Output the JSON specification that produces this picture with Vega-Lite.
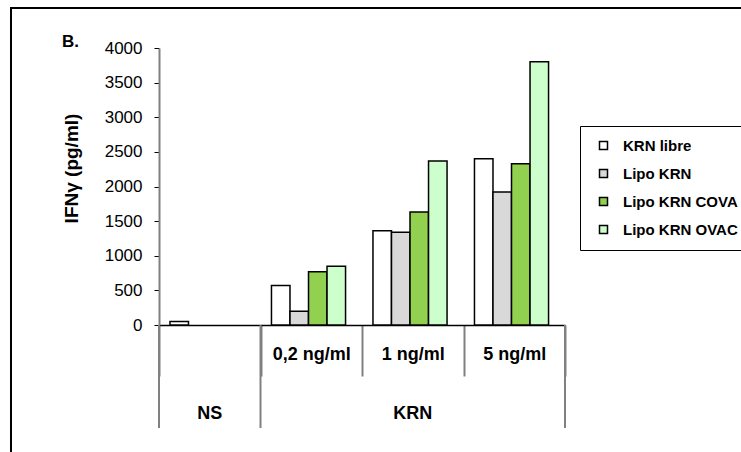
{
  "$schema": "https://vega.github.io/schema/vega-lite/v6.json",
  "width": 740,
  "height": 450,
  "autosize": {"type": "none"},
  "padding": {"left": 11, "top": 8, "right": 0, "bottom": 0},
  "background": "white",
  "config": {"view": {"stroke": "#000", "strokeWidth": 2}, "font": "Liberation Sans"},
  "title": {"text": "B.", "anchor": "start", "frame": "group", "dx": 51, "offset": -56, "baseline": "alphabetic", "fontSize": 17, "fontWeight": "bold", "color": "#000"},
  "datasets": {
    "bars": [
      {"cat": "NS", "series": "KRN libre", "value": 50},
      {"cat": "0,2 ng/ml", "series": "KRN libre", "value": 570},
      {"cat": "0,2 ng/ml", "series": "Lipo KRN", "value": 200},
      {"cat": "0,2 ng/ml", "series": "Lipo KRN COVA", "value": 770},
      {"cat": "0,2 ng/ml", "series": "Lipo KRN OVAC", "value": 850},
      {"cat": "1 ng/ml", "series": "KRN libre", "value": 1360},
      {"cat": "1 ng/ml", "series": "Lipo KRN", "value": 1340},
      {"cat": "1 ng/ml", "series": "Lipo KRN COVA", "value": 1630},
      {"cat": "1 ng/ml", "series": "Lipo KRN OVAC", "value": 2370},
      {"cat": "5 ng/ml", "series": "KRN libre", "value": 2400},
      {"cat": "5 ng/ml", "series": "Lipo KRN", "value": 1920},
      {"cat": "5 ng/ml", "series": "Lipo KRN COVA", "value": 2330},
      {"cat": "5 ng/ml", "series": "Lipo KRN OVAC", "value": 3800}
    ],
    "sepStart": [{"cat": "NS"}, {"cat": "0,2 ng/ml"}],
    "sepEnd": [{"cat": "5 ng/ml"}],
    "groups": [{"cat": "NS", "label": "NS"}, {"cat": "1 ng/ml", "label": "KRN"}]
  },
  "layer": [
    {
      "data": {"name": "bars"},
      "mark": {"type": "bar", "stroke": "#000", "strokeWidth": 1.5},
      "encoding": {
        "x": {
          "field": "cat", "type": "nominal",
          "scale": {"domain": ["NS", "0,2 ng/ml", "1 ng/ml", "5 ng/ml"], "range": [148, 554], "paddingInner": 0, "paddingOuter": 0},
          "axis": {"orient": "bottom", "offset": -133, "title": null, "labelExpr": "datum.label == 'NS' ? '' : datum.label", "labelFontSize": 18, "labelFontWeight": "bold", "labelColor": "#000", "labelBaseline": "middle", "labelPadding": -22, "labelAngle": 0, "tickBand": "extent", "tickSize": 51, "tickColor": "#808080", "tickWidth": 2, "domainColor": "#000", "domainWidth": 1.5, "grid": false}
        },
        "xOffset": {
          "field": "series", "type": "nominal",
          "scale": {"domain": ["KRN libre", "Lipo KRN", "Lipo KRN COVA", "Lipo KRN OVAC"], "paddingInner": 0, "paddingOuter": 0.74, "align": 0.4}
        },
        "y": {
          "field": "value", "type": "quantitative",
          "scale": {"domain": [0, 4000], "range": [317, 40], "nice": false, "zero": true},
          "axis": {"values": [0, 500, 1000, 1500, 2000, 2500, 3000, 3500, 4000], "format": "d", "offset": -148, "title": "IFNγ (pg/ml)", "titleFontSize": 19, "titleFontWeight": "bold", "titleColor": "#000", "titleX": -88, "titleY": 160, "titleAngle": -90, "titleAlign": "center", "titleBaseline": "middle", "labelFontSize": 17, "labelColor": "#000", "labelPadding": 12, "tickColor": "#000", "tickSize": 5, "tickWidth": 1, "domainColor": "#808080", "domainWidth": 2, "grid": false}
        },
        "fill": {
          "field": "series", "type": "nominal",
          "scale": {"domain": ["KRN libre", "Lipo KRN", "Lipo KRN COVA", "Lipo KRN OVAC"], "range": ["#FFFFFF", "#D9D9D9", "#92D050", "#CCFFCC"]},
          "legend": {"orient": "none", "legendX": 569, "legendY": 118, "direction": "vertical", "title": null, "strokeColor": "#000", "fillColor": "#fff", "padding": 12, "symbolType": "square", "symbolSize": 64, "symbolStrokeColor": "#000", "symbolStrokeWidth": 1.5, "labelFontSize": 15, "labelFontWeight": "bold", "labelColor": "#000", "labelLimit": 300, "rowPadding": 12, "symbolOffset": 4, "labelOffset": 12}
        }
      }
    },
    {
      "data": {"name": "sepStart"},
      "mark": {"type": "rule", "color": "#808080", "strokeWidth": 2},
      "encoding": {
        "x": {"field": "cat", "type": "nominal", "bandPosition": 0},
        "y": {"datum": 0, "type": "quantitative"},
        "y2": {"datum": -1487}
      }
    },
    {
      "data": {"name": "sepEnd"},
      "mark": {"type": "rule", "color": "#808080", "strokeWidth": 2},
      "encoding": {
        "x": {"field": "cat", "type": "nominal", "bandPosition": 1},
        "y": {"datum": 0, "type": "quantitative"},
        "y2": {"datum": -1487}
      }
    },
    {
      "data": {"name": "groups"},
      "mark": {"type": "text", "fontSize": 18, "fontWeight": "bold", "color": "#000", "baseline": "middle"},
      "encoding": {
        "x": {"field": "cat", "type": "nominal"},
        "y": {"datum": -1285, "type": "quantitative"},
        "text": {"field": "label"}
      }
    }
  ]
}
